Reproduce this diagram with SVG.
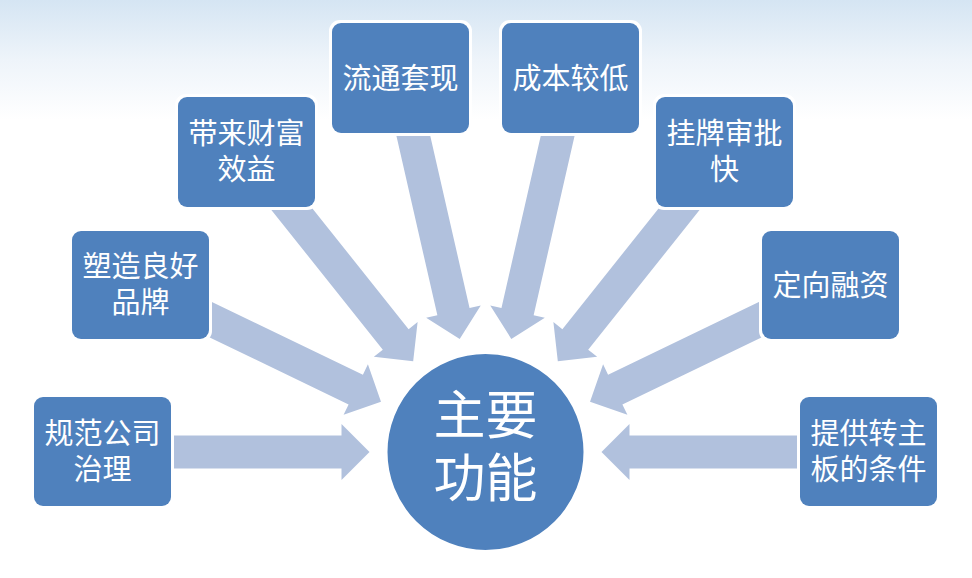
<svg xmlns="http://www.w3.org/2000/svg" width="972" height="578" viewBox="0 0 972 578">
  <defs>
    <linearGradient id="bg" x1="0" y1="0" x2="0" y2="1">
      <stop offset="0" stop-color="#D5E5F3"/>
      <stop offset="0.5" stop-color="#EEF4FA"/>
      <stop offset="1" stop-color="#FFFFFF"/>
    </linearGradient>
    <path id="arr" d="M -383 -16.5 H -144 V -28 L -116 0 L -144 28 V 16.5 H -383 Z"/>
  </defs>
  <style>
    .arrow { fill: #B1C1DD; }
    .halo { fill: #FFFFFF; }
    .box { fill: #4F81BD; }
    .hub { fill: #4F81BD; stroke: #FFFFFF; stroke-width: 2; }
    .lbl { fill: #FFFFFF; font-family: "Liberation Sans", "Noto Sans CJK SC", sans-serif; font-size: 29px; text-anchor: middle; }
    .hubtxt { fill: #FFFFFF; font-family: "Liberation Sans", "Noto Sans CJK SC", sans-serif; font-size: 52px; text-anchor: middle; }
  </style>
  <rect x="0" y="0" width="972" height="578" fill="#FFFFFF"/>
  <rect x="0" y="0" width="972" height="120" fill="url(#bg)"/>

  <g id="connectors" transform="translate(485.5 452)">
    <use href="#arr" class="arrow" transform="rotate(0)"/>
    <use href="#arr" class="arrow" transform="rotate(25.714)"/>
    <use href="#arr" class="arrow" transform="rotate(51.429)"/>
    <use href="#arr" class="arrow" transform="rotate(77.143)"/>
    <use href="#arr" class="arrow" transform="rotate(102.857)"/>
    <use href="#arr" class="arrow" transform="rotate(128.571)"/>
    <use href="#arr" class="arrow" transform="rotate(154.286)"/>
    <use href="#arr" class="arrow" transform="rotate(180)"/>
  </g>

  <g id="hub">
    <circle class="hub" cx="485.5" cy="452" r="99"/>
    <text class="hubtxt" x="485.5" y="434">主要</text>
    <text class="hubtxt" x="485.5" y="497">功能</text>
  </g>

  <g id="n1">
    <rect class="halo" x="31" y="394" width="143" height="115" rx="11"/>
    <rect class="box" x="34" y="397" width="137" height="109" rx="9"/>
    <text class="lbl" x="102.5" y="443.5">规范公司</text>
    <text class="lbl" x="102.5" y="479.5">治理</text>
  </g>
  <g id="n2">
    <rect class="halo" x="69" y="228" width="143" height="114" rx="11"/>
    <rect class="box" x="72" y="231" width="137" height="108" rx="9"/>
    <text class="lbl" x="140.5" y="277">塑造良好</text>
    <text class="lbl" x="140.5" y="313">品牌</text>
  </g>
  <g id="n3">
    <rect class="halo" x="175" y="94" width="143" height="116" rx="11"/>
    <rect class="box" x="178" y="97" width="137" height="110" rx="9"/>
    <text class="lbl" x="246.5" y="144">带来财富</text>
    <text class="lbl" x="246.5" y="180">效益</text>
  </g>
  <g id="n4">
    <rect class="halo" x="329" y="20" width="143" height="116" rx="11"/>
    <rect class="box" x="332" y="23" width="137" height="110" rx="9"/>
    <text class="lbl" x="400.5" y="88.5">流通套现</text>
  </g>
  <g id="n5">
    <rect class="halo" x="499" y="20" width="143" height="116" rx="11"/>
    <rect class="box" x="502" y="23" width="137" height="110" rx="9"/>
    <text class="lbl" x="570.5" y="88.5">成本较低</text>
  </g>
  <g id="n6">
    <rect class="halo" x="653" y="94" width="143" height="116" rx="11"/>
    <rect class="box" x="656" y="97" width="137" height="110" rx="9"/>
    <text class="lbl" x="724.5" y="144">挂牌审批</text>
    <text class="lbl" x="724.5" y="180">快</text>
  </g>
  <g id="n7">
    <rect class="halo" x="759" y="228" width="143" height="114" rx="11"/>
    <rect class="box" x="762" y="231" width="137" height="108" rx="9"/>
    <text class="lbl" x="830.5" y="295.5">定向融资</text>
  </g>
  <g id="n8">
    <rect class="halo" x="797" y="394" width="143" height="115" rx="11"/>
    <rect class="box" x="800" y="397" width="137" height="109" rx="9"/>
    <text class="lbl" x="868.5" y="443.5">提供转主</text>
    <text class="lbl" x="868.5" y="479.5">板的条件</text>
  </g>
</svg>
